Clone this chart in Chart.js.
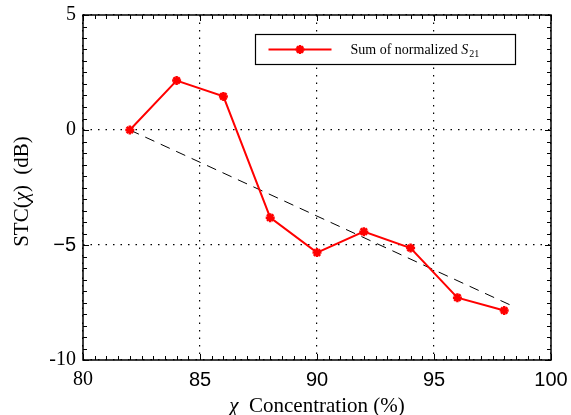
<!DOCTYPE html>
<html>
<head>
<meta charset="utf-8">
<style>
  html, body { margin: 0; padding: 0; background: #fff; }
  #wrap { width: 571px; height: 415px; }
</style>
</head>
<body>
<div id="wrap"><canvas id="myChart" width="571" height="415"></canvas></div>
<script src="https://cdn.jsdelivr.net/npm/chart.js"></script>
<script>
// data
var concentration = [82, 84, 86, 88, 90, 92, 94, 96, 98];
var stcSum = [0, 2.15, 1.46, -3.81, -5.33, -4.42, -5.13, -7.29, -7.85];
var trendX = [82, 98.5];
var trendY = [0, -7.72];
var xTicks = [80, 85, 90, 95, 100];
var yTicks = [5, 0, -5, -10];
var seriesLabel = "Sum of normalized ";

function pts(xs, ys){
	var out = [];
	for(var i = 0; i < xs.length; i++) out.push({x: xs[i], y: ys[i]});
	return out;
}

var serif = "'Liberation Serif', 'Times New Roman', serif";
var sans = "'Liberation Sans', Arial, sans-serif";

// sans or serif per tick, like the original figure
var xSans = [85, 90, 95, 100];
var ySans = [-5];

// draw text pieces one after another: [text, font]
function runWidth(ctx, parts){
	var w = 0;
	for(var i = 0; i < parts.length; i++){ ctx.font = parts[i][1]; w += ctx.measureText(parts[i][0]).width; }
	return w;
}
function drawRun(ctx, parts, x, y){
	for(var i = 0; i < parts.length; i++){
		ctx.font = parts[i][1];
		ctx.fillText(parts[i][0], x, y);
		x += ctx.measureText(parts[i][0]).width;
	}
}

// inside tick marks on all four sides + frame + legend + axis titles
var framePlugin = {
	id: 'frame',
	afterDraw: function(chart){
		var ctx = chart.ctx, a = chart.chartArea;
		var xs = chart.scales.x, ys = chart.scales.y;
		ctx.save();
		ctx.strokeStyle = '#000';
		ctx.lineWidth = 1;
		for(var i = 0; i <= 40; i++){
			var v = 80 + i * 0.5;
			var px = Math.round(xs.getPixelForValue(v)) + 0.5;
			var len = (i % 10 === 0) ? 6 : 4;
			ctx.beginPath();
			ctx.moveTo(px, a.bottom); ctx.lineTo(px, a.bottom - len);
			ctx.moveTo(px, a.top); ctx.lineTo(px, a.top + len);
			ctx.stroke();
		}
		for(var j = 0; j <= 30; j++){
			var w = -10 + j * 0.5;
			var py = Math.round(ys.getPixelForValue(w)) + 0.5;
			var len2 = (j % 10 === 0) ? 6 : 4;
			ctx.beginPath();
			ctx.moveTo(a.left, py); ctx.lineTo(a.left + len2, py);
			ctx.moveTo(a.right, py); ctx.lineTo(a.right - len2, py);
			ctx.stroke();
		}
		ctx.lineWidth = 1.5;
		ctx.strokeRect(a.left, a.top, a.right - a.left, a.bottom - a.top);

		// legend box
		var bx = a.left + 172.5, by = a.top + 19.5, bw = 260, bh = 30;
		ctx.fillStyle = '#fff';
		ctx.fillRect(bx, by, bw, bh);
		ctx.lineWidth = 1.2;
		ctx.strokeRect(bx, by, bw, bh);
		var ly = by + bh / 2;
		ctx.strokeStyle = '#ff0000';
		ctx.lineWidth = 2;
		ctx.beginPath();
		ctx.moveTo(bx + 13, ly); ctx.lineTo(bx + 76, ly);
		ctx.stroke();
		var mx = bx + 44.5;
		ctx.lineWidth = 2.5;
		ctx.beginPath();
		for(var k = 0; k < 4; k++){
			var ang = k * Math.PI / 4;
			ctx.moveTo(mx - 4.5 * Math.cos(ang), ly - 4.5 * Math.sin(ang));
			ctx.lineTo(mx + 4.5 * Math.cos(ang), ly + 4.5 * Math.sin(ang));
		}
		ctx.stroke();
		ctx.fillStyle = '#000';
		ctx.textBaseline = 'middle';
		var tx = bx + 95;
		drawRun(ctx, [[seriesLabel, "14px " + serif], ["S", "italic 14px " + serif]], tx, ly + 1);
		tx += runWidth(ctx, [[seriesLabel, "14px " + serif], ["S", "italic 14px " + serif]]) + 1;
		ctx.font = "10px " + serif;
		ctx.fillText("21", tx, ly + 5);

		// axis titles (italic chi)
		var xt = [["\u03c7", "italic 21px " + serif], ["  Concentration (%)", "21px " + serif]];
		var xw = runWidth(ctx, xt);
		drawRun(ctx, xt, (a.left + a.right) / 2 - xw / 2, 406);
		var yt = [["STC(", "21px " + serif], ["\u03c7", "italic 21px " + serif], [")  (dB)", "21px " + serif]];
		var yw = runWidth(ctx, yt);
		ctx.translate(22, (a.top + a.bottom) / 2 + 4);
		ctx.rotate(-Math.PI / 2);
		drawRun(ctx, yt, -yw / 2, 0);
		ctx.restore();
	}
};

var ctx = document.getElementById('myChart').getContext('2d');
var myChart = new Chart(ctx, {
	type: 'scatter',
	data: {
		datasets: [{
			label: 'trend',
			data: pts(trendX, trendY),
			showLine: true,
			borderColor: '#000',
			borderWidth: 1,
			borderDash: [10, 7],
			pointRadius: 0,
			order: 2
		}, {
			label: 'Sum of normalized S21',
			data: pts(concentration, stcSum),
			showLine: true,
			borderColor: '#ff0000',
			backgroundColor: '#ff0000',
			borderWidth: 2,
			pointStyle: 'star',
			pointRadius: 4.5,
			pointBorderWidth: 2.5,
			order: 1
		}]
	},
	options: {
		animation: false,
		responsive: false,
		maintainAspectRatio: false,
		layout: { padding: { top: 15, right: 20, left: 0, bottom: 0 } },
		plugins: { legend: { display: false }, tooltip: { enabled: false } },
		scales: {
			x: {
				type: 'linear', min: 80, max: 100,
				afterFit: function(s){ s.height = 55; s.paddingLeft = 0; s.paddingRight = 0; },
				afterBuildTicks: function(s){ s.ticks = xTicks.map(function(v){ return {value: v}; }); },
				ticks: {
					color: '#000', padding: 8,
					font: function(c){
						var v = c.tick ? c.tick.value : 0;
						return { family: xSans.indexOf(v) >= 0 ? sans : serif, size: 20 };
					}
				},
				grid: { color: '#000', lineWidth: 1.2, drawTicks: false },
				border: { display: false, dash: [1.5, 6] },
				title: { display: false }
			},
			y: {
				type: 'linear', min: -10, max: 5,
				afterFit: function(s){ s.width = 83; s.paddingTop = 0; s.paddingBottom = 0; },
				afterBuildTicks: function(s){ s.ticks = yTicks.map(function(v){ return {value: v}; }); },
				ticks: {
					color: '#000', padding: 7,
					font: function(c){
						var v = c.tick ? c.tick.value : 0;
						return { family: ySans.indexOf(v) >= 0 ? sans : serif, size: 20 };
					},
					callback: function(v){ return v === -5 ? '\u22125' : String(v); }
				},
				grid: { color: '#000', lineWidth: 1.2, drawTicks: false },
				border: { display: false, dash: [1.5, 6] },
				title: { display: false }
			}
		}
	},
	plugins: [framePlugin]
});
</script>
</body>
</html>
